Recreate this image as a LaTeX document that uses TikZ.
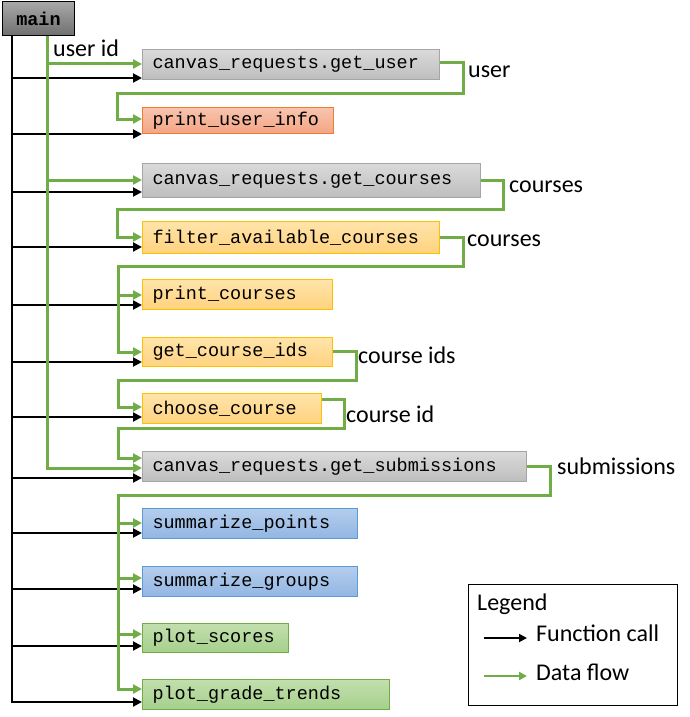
\documentclass[tikz,border=0pt]{standalone}
\usepackage{fontspec}
\setmainfont{Carlito}
\newfontfamily\codefont{Liberation Mono}
\usetikzlibrary{arrows.meta}
\definecolor{flow}{HTML}{70AD47}
\definecolor{grayT}{HTML}{DADADA}
\definecolor{grayB}{HTML}{BEBEBE}
\definecolor{grayD}{HTML}{A5A5A5}
\definecolor{oraT}{HTML}{F7C4AE}
\definecolor{oraB}{HTML}{F4A584}
\definecolor{oraD}{HTML}{ED7D31}
\definecolor{yelT}{HTML}{FFE4AA}
\definecolor{yelB}{HTML}{FFD27F}
\definecolor{yelD}{HTML}{FFC000}
\definecolor{bluT}{HTML}{B4CDEC}
\definecolor{bluB}{HTML}{92B6E3}
\definecolor{bluD}{HTML}{5B9BD5}
\definecolor{grnT}{HTML}{C2DFAE}
\definecolor{grnB}{HTML}{A5D08B}
\definecolor{grnD}{HTML}{70AD47}
\definecolor{mainT}{HTML}{A8A8A8}
\definecolor{mainB}{HTML}{707070}
\begin{document}
\begin{tikzpicture}[x=1pt,y=-1pt,
  fnbox/.style={anchor=north west, inner xsep=10pt, inner ysep=0pt, line width=1pt,
    font=\codefont\fontsize{18.5}{20}\selectfont, align=left},
  graybox/.style={fnbox, draw=grayD, top color=grayT, bottom color=grayB},
  orabox/.style={fnbox, draw=oraD, top color=oraT, bottom color=oraB},
  yelbox/.style={fnbox, draw=yelD, top color=yelT, bottom color=yelB},
  blubox/.style={fnbox, draw=bluD, top color=bluT, bottom color=bluB},
  grnbox/.style={fnbox, draw=grnD, top color=grnT, bottom color=grnB},
  call/.style={draw=black, line width=2pt, -{Triangle[length=9pt,width=9pt]}},
  callline/.style={draw=black, line width=2pt},
  flowl/.style={draw=flow, line width=3pt},
  flowa/.style={flowl, -{Triangle[length=9pt,width=9pt]}},
  lbl/.style={font=\fontsize{24}{26}\selectfont, anchor=west, inner sep=0pt}
]
\useasboundingbox (0,0) rectangle (690,717);

% main
\node[anchor=north west, draw=black, line width=1pt, top color=mainT, bottom color=mainB,
  minimum width=72pt, minimum height=34pt, inner sep=0pt,
  font=\codefont\bfseries\fontsize{18.5}{20}\selectfont] (main) at (2,1) {main};

% function boxes
\node[graybox, text width=277pt, minimum height=30pt] (u)  at (142,49)  {canvas\_requests.get\_user};
\node[orabox,  text width=171pt, minimum height=26pt] (pu) at (142,107) {print\_user\_info};
\node[graybox, text width=318pt, minimum height=34pt] (gc) at (142,163) {canvas\_requests.get\_courses};
\node[yelbox,  text width=277pt, minimum height=32pt] (fa) at (142,221) {filter\_available\_courses};
\node[yelbox,  text width=170pt, minimum height=30pt] (pc) at (142,279) {print\_courses};
\node[yelbox,  text width=170pt, minimum height=29pt] (gi) at (142,337) {get\_course\_ids};
\node[yelbox,  text width=159pt, minimum height=30pt] (cc) at (142,393) {choose\_course};
\node[graybox, text width=364pt, minimum height=30pt] (gs) at (142,451) {canvas\_requests.get\_submissions};
\node[blubox,  text width=195pt, minimum height=30pt] (sp) at (142,508) {summarize\_points};
\node[blubox,  text width=195pt, minimum height=30pt] (sg) at (142,566) {summarize\_groups};
\node[grnbox,  text width=126pt, minimum height=29pt] (ps) at (142,623) {plot\_scores};
\node[grnbox,  text width=227pt, minimum height=30pt] (pg) at (142,679) {plot\_grade\_trends};

% black trunk and calls
\coordinate (bt) at ([xshift=10pt]main.south west);
\draw[callline] (bt) -- (bt |- 0,703);
\draw[call] (bt |- 0,78)  -- (u.west  |- 0,78);
\draw[call] (bt |- 0,134) -- (pu.west |- 0,134);
\draw[call] (bt |- 0,192) -- (gc.west |- 0,192);
\draw[call] (bt |- 0,247) -- (fa.west |- 0,247);
\draw[call] (bt |- 0,305) -- (pc.west |- 0,305);
\draw[call] (bt |- 0,362) -- (gi.west |- 0,362);
\draw[call] (bt |- 0,417) -- (cc.west |- 0,417);
\draw[call] (bt |- 0,478) -- (gs.west |- 0,478);
\draw[call] (bt |- 0,533) -- (sp.west |- 0,533);
\draw[call] (bt |- 0,589) -- (sg.west |- 0,589);
\draw[call] (bt |- 0,646) -- (ps.west |- 0,646);
\draw[call] (bt |- 0,702) -- (pg.west |- 0,702);

% green trunk (user id)
\coordinate (gt) at (main.south -| 47.5,0);
\draw[flowa] (gt) -- (47.5,468) -- (gs.west |- 0,468);
\draw[flowa] (gt |- 0,64)  -- (u.west  |- 0,64);
\draw[flowa] (gt |- 0,180) -- (gc.west |- 0,180);
\node[lbl] (luid) at (53,48) {user id};

% data flows
\draw[flowa] (u.east |- 0,63) -- (463,63) -- (463,93) -- (117,93) -- (117,119) -- (pu.west |- 0,119);
\node[lbl] (luser) at (468,72) {user};

\draw[flowa] (gc.east |- 0,180) -- (503,180) -- (503,209) -- (117,209) -- (117,237) -- (fa.west |- 0,237);
\node[lbl] (lc1) at (509,187) {courses};

\draw[flowa] (fa.east |- 0,237) -- (463,237) -- (463,266) -- (118,266) -- (118,352) -- (gi.west |- 0,352);
\draw[flowa] (118,295) -- (pc.west |- 0,295);
\node[lbl] (lc2) at (467,241) {courses};

\draw[flowa] (gi.east |- 0,351) -- (356,351) -- (356,380) -- (118,380) -- (118,407) -- (cc.west |- 0,407);
\node[lbl] (lcids) at (358,355) {course ids};

\draw[flowa] (cc.east |- 0,399) -- (344,399) -- (344,428) -- (118,428) -- (118,458) -- (gs.west |- 0,458);
\node[lbl] (lcid) at (346,414) {course id};

\draw[flowa] (gs.east |- 0,466) -- (550,466) -- (550,495) -- (118,495) -- (118,689) -- (pg.west |- 0,689);
\draw[flowa] (118,523) -- (sp.west |- 0,523);
\draw[flowa] (118,578) -- (sg.west |- 0,578);
\draw[flowa] (118,634) -- (ps.west |- 0,634);
\node[lbl] (lsub) at (557,466) {submissions};

% legend
\node[anchor=north west, draw=black, line width=1pt, minimum width=209pt, minimum height=121pt, inner sep=0pt] (lg) at (468,584) {};
\node[lbl] (lgt) at (477,604) {Legend};
\coordinate (la1) at (484,638);
\coordinate (la2) at (527,638);
\coordinate (lb1) at (484,676);
\coordinate (lb2) at (527,676);
\draw[draw=black, line width=1.8pt, -{Triangle[length=8pt,width=8pt]}] (la1) -- (la2);
\draw[draw=flow, line width=2.2pt, -{Triangle[length=8pt,width=8pt]}] (lb1) -- (lb2);
\node[lbl] (lfc) at (536,633) {Function call};
\node[lbl] (ldf) at (536,672) {Data flow};
\end{tikzpicture}
\end{document}
